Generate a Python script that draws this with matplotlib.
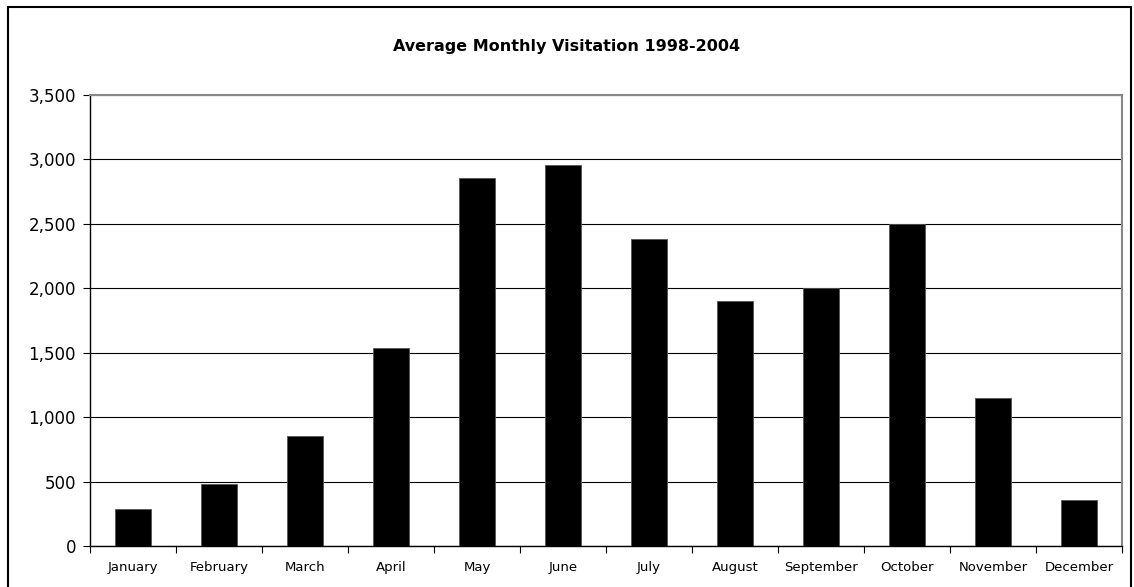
import matplotlib
matplotlib.use("Agg")
import matplotlib.pyplot as plt
from matplotlib.ticker import FuncFormatter, MultipleLocator
from matplotlib.patches import Rectangle

months = ["January", "February", "March", "April", "May", "June", "July",
          "August", "September", "October", "November", "December"]
visits = [290, 485, 850, 1540, 2858, 2955, 2380, 1905, 2003, 2500, 1148, 357]
title = "Average Monthly Visitation 1998-2004"

plt.rcParams['font.family'] = ['DejaVu Sans']

W, H = 1134, 587
fig = plt.figure(figsize=(W / 100, H / 100), dpi=100)
fig.patch.set_facecolor("white")

# outer chart border
fig.patches.append(Rectangle((8 / W, -0.05), (1131 - 8) / W, (H - 7) / H + 0.05,
                             transform=fig.transFigure, fill=False,
                             edgecolor="black", linewidth=1.5))

left, right, top, bottom = 90, 1122, 95, 546
ax = fig.add_axes([left / W, (H - bottom) / H, (right - left) / W, (bottom - top) / H])

x = list(range(len(months)))
ax.bar(x, visits, width=0.42, color="black", edgecolor="#555555", linewidth=0.6, zorder=3)

ax.set_xlim(-0.5, len(months) - 0.5)
ax.set_ylim(0, 3500)
ax.yaxis.set_major_locator(MultipleLocator(500))
ax.yaxis.set_major_formatter(FuncFormatter(lambda v, p: f"{int(v):,}"))
ax.grid(axis="y", color="black", linewidth=0.8, zorder=0)

ax.set_xticks(x)
ax.set_xticklabels(months, fontsize=9.5)
ax.set_xticks([i - 0.5 for i in range(len(months) + 1)], minor=True)
ax.tick_params(axis="x", which="major", length=0, pad=11)
ax.tick_params(axis="x", which="minor", length=5, width=0.8, direction="out")
ax.tick_params(axis="y", length=5, width=0.8, direction="out", labelsize=12, pad=5)

ax.spines["left"].set_color("black")
ax.spines["left"].set_linewidth(1.0)
ax.spines["bottom"].set_color("black")
ax.spines["bottom"].set_linewidth(1.0)
ax.spines["top"].set_color("#888888")
ax.spines["top"].set_linewidth(1.5)
ax.spines["right"].set_color("#888888")
ax.spines["right"].set_linewidth(1.5)

fig.text(567 / W, 1 - 46 / H, title, ha="center", va="center",
         fontsize=11.5, fontweight="bold")

fig.savefig("out.png", dpi=100, facecolor="white")
